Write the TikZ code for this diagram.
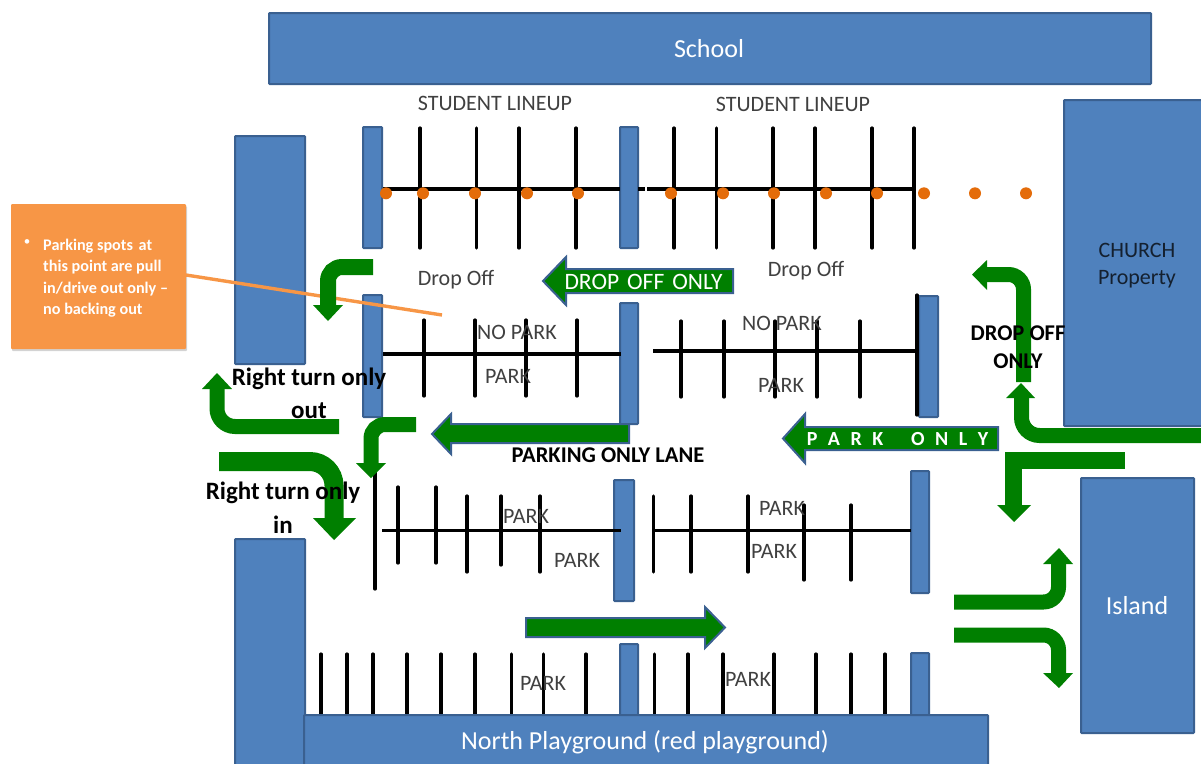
\documentclass[tikz,border=0pt]{standalone}
\usepackage{fontspec}
\setmainfont{Carlito}
\usetikzlibrary{shadows}
\definecolor{blk}{HTML}{4F81BD}
\definecolor{blkedge}{HTML}{3A6090}
\definecolor{agreen}{HTML}{007F00}
\definecolor{orng}{HTML}{F79646}
\definecolor{dotc}{HTML}{E46C0A}
\definecolor{lab}{HTML}{404040}
\tikzset{
  x=1pt,y=-1pt,
  block/.style={fill=blk,draw=blkedge,line width=2pt,rounded corners=0.8pt},
  tick/.style={draw=black,line width=3.2pt,line cap=round},
  bar/.style={draw=black,line width=3.2pt},
  stud/.style={fill=dotc,draw=none},
  bend/.style={draw=agreen,line width=#1,line cap=butt},
  bend/.default=16pt,
  head/.style={fill=agreen,draw=none},
  lane/.style={fill=agreen,draw=blkedge,line width=2pt,line join=miter},
  txt/.style={text=lab,font=\fontsize{22}{24}\selectfont,inner sep=0pt},
  bigtxt/.style={text=white,font=\fontsize{26}{28}\selectfont,inner sep=0pt},
  boldtxt/.style={text=black,font=\fontsize{22.5}{24}\selectfont\bfseries,inner sep=0pt},
  turntxt/.style={text=black,font=\fontsize{25}{27}\selectfont\bfseries,inner sep=0pt},
  lanetxt/.style={text=white,inner sep=0pt},
  note/.style={fill=orng,draw=none,rounded corners=1pt,drop shadow={shadow xshift=1pt,shadow yshift=-2pt,opacity=0.35}}
}
\newcommand{\tickset}[3]{\foreach \tx in {#1} {\draw[tick] (\tx,#2) -- (\tx,#3);}}
\begin{document}
\begin{tikzpicture}
\useasboundingbox (0,0) rectangle (1201,763);
% large blocks
\draw[block] (269,13) rectangle (1151,84);
\draw[block] (235,136) rectangle (305,364);
\draw[block] (235,539) rectangle (305,770);
\draw[block] (1064,100) rectangle (1210,426);
\draw[block] (1081,478) rectangle (1194,733);
% posts
\draw[block] (363,127) rectangle (382,248);
\draw[block] (620,127) rectangle (638,248);
\draw[block] (363,295) rectangle (382,417);
\draw[block] (620,303) rectangle (638,424);
\draw[block] (919,296) rectangle (938,417);
\draw[block] (614,480) rectangle (634,601);
\draw[block] (911,471) rectangle (929,593);
\draw[block] (620,644) rectangle (638,720);
\draw[block] (911,653) rectangle (929,720);
% lineup row
\draw[bar] (383,189) -- (620,189);
\draw[bar] (638,189) -- (645,189);
\draw[bar] (647,189) -- (912,189);
\tickset{420,476.3,519,576,674,716.7,773,815,872,914}{128}{248}
\foreach \dx in {386,423,475,527,578,671,723,774,826,877,924,975,1026} {\fill[stud] (\dx,193.3) circle (6);}
% row 2
\draw[bar] (383,354) -- (621,354);
\tickset{424,475,526,577}{320}{396}
\draw[bar] (653,351) -- (917,351);
\tickset{681,724,775,817,860}{321}{397}
\draw[tick] (917,295) -- (917,415);
% row 3
\draw[tick] (375,470) -- (375,589);
\draw[bar] (382,530.5) -- (621,530.5);
\tickset{398,436}{487}{563}
\tickset{467,540}{496}{572}
\tickset{501}{496}{565}
\draw[bar] (654,530.5) -- (911,530.5);
\tickset{653.5,691,748}{496}{572}
\tickset{804,851}{505}{580}
% bottom row
\tickset{321,347,373,407,441,475,511.5,543.5,586,654.7,688,723,774,816,851,885}{654}{716}
\draw[block] (304,715) rectangle (988,770);
% note and its leader
\node[note,minimum width=175pt,minimum height=145pt,inner sep=0pt] (notebox) at (98.5,276.5) {};
\coordinate (noteend) at (442,315);
\draw[orng,line width=3.4pt] (186,275) -- (noteend);
% straight lane arrows
\draw[lane] (733,269) -- (566,269) -- (566,257) -- (543,281) -- (566,305) -- (566,293) -- (733,293) -- cycle;
\draw[lane] (629,424) -- (451,424) -- (451,414) -- (432,434) -- (451,454) -- (451,443) -- (629,443) -- cycle;
\draw[lane] (998,427) -- (805,427) -- (805,414) -- (783,438.5) -- (805,463) -- (805,450) -- (998,450) -- cycle;
\draw[lane] (526,618) -- (705,618) -- (705,607) -- (725,627.5) -- (705,648) -- (705,637) -- (526,637) -- cycle;
% bent arrows
\draw[bend=16pt,rounded corners=14pt] (373,267) -- (328,267) -- (328,306);
\fill[head] (313,305) -- (343,305) -- (328,321) -- cycle;
\draw[bend=15pt,rounded corners=18pt] (339,426.5) -- (217,426.5) -- (217,388);
\fill[head] (202,389) -- (232,389) -- (217,373) -- cycle;
\draw[bend=19pt,rounded corners=24pt] (219,461.5) -- (334,461.5) -- (334,519);
\fill[head] (313,518) -- (356,518) -- (334,540) -- cycle;
\draw[bend=15pt,rounded corners=14pt] (416,424.5) -- (371,424.5) -- (371,464);
\fill[head] (356,463) -- (386,463) -- (371,478) -- cycle;
\draw[bend=15pt,rounded corners=15pt] (1023.5,382) -- (1023.5,274.5) -- (986,274.5);
\fill[head] (987,260) -- (987,290) -- (972,274.5) -- cycle;
\draw[bend=15pt,rounded corners=18pt] (1205,435.5) -- (1021.5,435.5) -- (1021.5,397);
\fill[head] (1006,398) -- (1035,398) -- (1021,383) -- cycle;
\draw[bend=17pt] (1125,460.5) -- (1013.5,460.5) -- (1013.5,506);
\fill[head] (997,505) -- (1031,505) -- (1014,522) -- cycle;
\draw[bend=15pt,rounded corners=15pt] (954,602) -- (1058.5,602) -- (1058.5,563);
\fill[head] (1043,564) -- (1073,564) -- (1059,548) -- cycle;
\draw[bend=15pt,rounded corners=15pt] (954,635) -- (1058.5,635) -- (1058.5,674);
\fill[head] (1043,673) -- (1073,673) -- (1059,688) -- cycle;
% labels
\node[bigtxt] (school) at (709,49) {School};
\node[bigtxt] (north) at (645,742) {North Playground (red playground)};
\node[bigtxt] (island) at (1137,606) {Island};
\node[txt,text=black!75!blk] (ch1) at (1137,250) {CHURCH};
\node[txt,text=black!75!blk] (ch2) at (1137,279) {Property};
\node[txt] (sl1) at (495,103) {STUDENT LINEUP};
\node[txt] (sl2) at (793,104) {STUDENT LINEUP};
\node[txt] (do1) at (456,280) {Drop Off};
\node[txt] (do2) at (806,271) {Drop Off};
\node[txt] (np1) at (517,332) {NO PARK};
\node[txt] (np2) at (782,323) {NO PARK};
\node[txt] (p1) at (508,376) {PARK};
\node[txt] (p2) at (781,385) {PARK};
\node[txt] (p3) at (526,516) {PARK};
\node[txt] (p4) at (577,560) {PARK};
\node[txt] (p5) at (782,508) {PARK};
\node[txt] (p6) at (774,551) {PARK};
\node[txt] (p7) at (543,683) {PARK};
\node[txt] (p8) at (748,679) {PARK};
\node[turntxt] (rt1) at (309,379) {Right turn only};
\node[turntxt] (rt2) at (309,411) {out};
\node[turntxt] (rt3) at (283,493) {Right turn only};
\node[turntxt] (rt4) at (283,525) {in};
\node[boldtxt] (pl) at (608,455) {PARKING ONLY LANE};
\node[boldtxt] (dr1) at (1018,333) {DROP OFF};
\node[boldtxt] (dr2) at (1018,361) {ONLY};
\node[lanetxt,font=\fontsize{23.5}{25}\selectfont] (lt1) at (643.5,282) {DROP\hspace{8pt}OFF\hspace{8pt}ONLY};
\node[lanetxt,font=\fontsize{20}{22}\selectfont\bfseries] (lt2) at (897.5,439) {P\hspace{10.5pt}A\hspace{10.5pt}R\hspace{10.5pt}K\hspace{28pt}O\hspace{10.5pt}N\hspace{10.5pt}L\hspace{10.5pt}Y};
\node[text=white,font=\fontsize{16.2}{21.3}\selectfont\bfseries,inner sep=0pt,anchor=north west,align=left] (notetxt) at (43,239) {Parking spots\hspace{2pt} at\\this point are pull\\in/drive out only --\\no backing out};
\node[text=white,font=\fontsize{13}{14}\selectfont,inner sep=0pt] (bullet) at (27,243) {•};
\end{tikzpicture}
\end{document}
